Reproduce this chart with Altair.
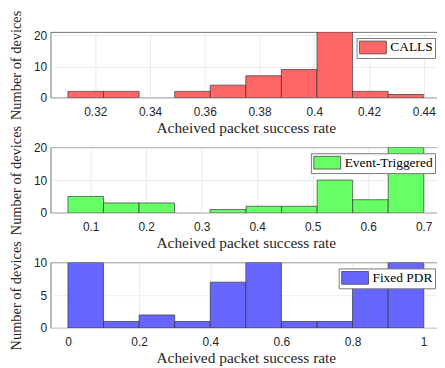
import altair as alt
import pandas as pd

# ---- data ----
calls_start = [0.310, 0.323, 0.336, 0.349, 0.362, 0.375, 0.388, 0.401, 0.414, 0.427]
calls_end = [0.323, 0.336, 0.349, 0.362, 0.375, 0.388, 0.401, 0.414, 0.427, 0.440]
calls_count = [2, 2, 0, 2, 4, 7, 9, 21, 2, 1]

event_start = [0.059, 0.123, 0.187, 0.251, 0.315, 0.380, 0.444, 0.508, 0.572, 0.636]
event_end = [0.123, 0.187, 0.251, 0.315, 0.380, 0.444, 0.508, 0.572, 0.636, 0.700]
event_count = [5, 3, 3, 0, 1, 2, 2, 10, 4, 20]

fixed_start = [0.0, 0.1, 0.2, 0.3, 0.4, 0.5, 0.6, 0.7, 0.8, 0.9]
fixed_end = [0.1, 0.2, 0.3, 0.4, 0.5, 0.6, 0.7, 0.8, 0.9, 1.0]
fixed_count = [10, 1, 2, 1, 7, 10, 1, 1, 7, 10]

calls_ticks = [0.32, 0.34, 0.36, 0.38, 0.40, 0.42, 0.44]
event_ticks = [0.1, 0.2, 0.3, 0.4, 0.5, 0.6, 0.7]
fixed_ticks = [0.0, 0.2, 0.4, 0.6, 0.8, 1.0]

X_TITLE = "Acheived packet success rate"
Y_TITLE = "Number of devices"

W, H = 393, 66


def panel(start, end, count, name, color, field, xdom, xticks, fmt, ydom, yticks):
    df = pd.DataFrame({"start": start, "end": end, "count": count, field: [name] * len(start)})
    return (
        alt.Chart(df)
        .transform_filter("datum.count > 0")
        .mark_rect(stroke="#333333", strokeWidth=0.8, strokeOpacity=0.85, clip=True, opacity=1)
        .encode(
            x=alt.X("start:Q", scale=alt.Scale(domain=xdom, nice=False, zero=False),
                    axis=alt.Axis(values=xticks, format=fmt, title=X_TITLE)),
            x2="end:Q",
            y=alt.Y("count:Q", scale=alt.Scale(domain=ydom, nice=False),
                    axis=alt.Axis(values=yticks, title=Y_TITLE)),
            y2=alt.datum(0),
            color=alt.Color(f"{field}:N", scale=alt.Scale(domain=[name], range=[color]),
                            legend=alt.Legend(
                                title=None, orient="top-right", offset=6, padding=2,
                                strokeColor="#7a7a7a", fillColor="white", cornerRadius=0,
                                symbolType="M-2,-0.95H2V0.95H-2Z", symbolSize=182,
                                symbolStrokeColor="#444444", symbolStrokeWidth=0.8,
                                symbolOpacity=1, symbolOffset=7, labelOffset=10,
                                labelFont="Liberation Serif", labelFontSize=13.5,
                                labelColor="black")),
        )
        .properties(width=W, height=H)
    )


p1 = panel(calls_start, calls_end, calls_count, "CALLS", "#FF6666", "s1",
           [0.3037, 0.4463], calls_ticks, ".2~f", [0, 21], [0, 10, 20])
p2 = panel(event_start, event_end, event_count, "Event-Triggered", "#66FF66", "s2",
           [0.0279, 0.7311], event_ticks, ".1~f", [0, 20], [0, 10, 20])
p3 = panel(fixed_start, fixed_end, fixed_count, "Fixed PDR", "#6666FF", "s3",
           [-0.0486, 1.0486], fixed_ticks, ".1~f", [0, 10], [0, 5, 10])

chart = (
    alt.vconcat(p1, p2, p3, spacing=50, bounds="flush")
    .resolve_scale(color="independent", x="independent", y="independent")
    .resolve_legend(color="independent")
    .properties(padding={"left": 0, "top": 0, "right": -5, "bottom": 0})
    .configure_view(stroke="#4d4d4d", strokeWidth=0.8)
    .configure_axis(
        labelFont="Liberation Sans", labelFontSize=12, labelColor="#262626",
        titleFont="Liberation Serif", titleFontWeight="normal",
        titleColor="#262626", gridColor="#e6e6e6", gridWidth=0.8,
        domain=False, ticks=False,
    )
    .configure_axisX(labelPadding=9, titlePadding=3, titleFontSize=15.5)
    .configure_axisY(labelPadding=4, titlePadding=10, titleFontSize=14.5)
)

chart.save("out.html", embed_options={"renderer": "svg", "actions": False})
